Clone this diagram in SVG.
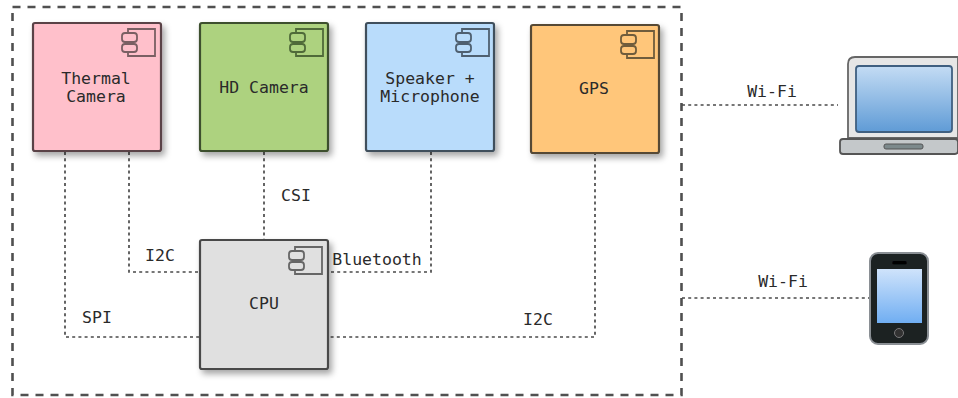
<svg xmlns="http://www.w3.org/2000/svg" width="958" height="398" viewBox="0 0 958 398">
<style>
text{font-family:"DejaVu Sans Mono","Liberation Mono",monospace;font-size:16.5px;fill:#2a2a2a;text-anchor:middle}
.box{stroke-width:2.2}
.ic{fill:none;stroke-width:1.8}
.con{fill:none;stroke:#4a4a4a;stroke-width:1.7;stroke-dasharray:3 3.2}
.fr{fill:none;stroke:#505050;stroke-width:2.6;stroke-dasharray:8 7}
</style>
<defs>
<filter id="sh" x="-10%" y="-10%" width="125%" height="125%"><feDropShadow dx="3" dy="4" stdDeviation="3" flood-color="#000" flood-opacity=".35"/></filter>
<filter id="soft" x="-5%" y="-5%" width="110%" height="110%"><feGaussianBlur stdDeviation=".7"/></filter>
<linearGradient id="scr" x1="0" y1="0" x2="0" y2="1"><stop offset="0" stop-color="#c4dcf4"/><stop offset="1" stop-color="#5f9bd6"/></linearGradient>
<linearGradient id="ph" x1="0" y1="0" x2="0" y2="1"><stop offset="0" stop-color="#cfe3fb"/><stop offset="1" stop-color="#70aef2"/></linearGradient>
<g id="comp"><path class="ic" d="M-27 4V0H0V27H-27V23M-27 13V15"/><rect class="ic" x="-33" y="4" width="15" height="9" rx="3"/><rect class="ic" x="-33" y="15" width="15" height="8" rx="3"/></g>
</defs>
<rect class="fr" x="12.500" y="7" width="669" height="388"/>
<g id="connectors">
<path class="con" d="M65 152V337H200"/>
<path class="con" d="M129 152V272H200"/>
<path class="con" d="M264 152V240"/>
<path class="con" d="M431 152V272H329"/>
<path class="con" d="M595 152V337H329"/>
<path class="con" d="M682 105H838"/>
<path class="con" d="M682 298H870"/>
<text x="160" y="261">I2C</text>
<text x="97" y="323">SPI</text>
<text x="296" y="201">CSI</text>
<text x="377" y="265">Bluetooth</text>
<text x="538" y="325">I2C</text>
<text x="772" y="97">Wi-Fi</text>
<text x="783" y="287">Wi-Fi</text>
</g>
<g id="thermal">
<rect class="box" x="33" y="23" width="128" height="128" rx="2" fill="#ffc0cb" stroke="#5a4347" filter="url(#sh)"/>
<use href="#comp" x="155" y="29" stroke="#7a5f63"/>
<text x="96" y="84">Thermal</text><text x="96" y="102">Camera</text>
</g>
<g id="hdcamera">
<rect class="box" x="200" y="23" width="128" height="128" rx="2" fill="#add27f" stroke="#3c4f2d" filter="url(#sh)"/>
<use href="#comp" x="323" y="29" stroke="#4f6a39"/>
<text x="264" y="93">HD Camera</text>
</g>
<g id="speaker">
<rect class="box" x="366" y="23" width="128" height="128" rx="2" fill="#b9dcfb" stroke="#3f4f5c" filter="url(#sh)"/>
<use href="#comp" x="489" y="29" stroke="#4f6070"/>
<text x="430" y="84">Speaker +</text><text x="430" y="102">Microphone</text>
</g>
<g id="gps">
<rect class="box" x="531" y="25" width="128" height="128" rx="2" fill="#ffc67a" stroke="#574a35" filter="url(#sh)"/>
<use href="#comp" x="654" y="31" stroke="#6f5c3c"/>
<text x="594" y="94">GPS</text>
</g>
<g id="cpu">
<rect class="box" x="200" y="240" width="128" height="129" rx="2" fill="#e0e0e0" stroke="#4a4a4a" filter="url(#sh)"/>
<use href="#comp" x="322" y="247" stroke="#666"/>
<text x="264" y="309">CPU</text>
</g>
<g id="laptop">
<path d="M848 64Q848 57 855 57H958V138H848Z" fill="#e6e6e6" stroke="#666" stroke-width="1.800"/>
<rect x="856" y="66" width="96" height="66" rx="3" fill="url(#scr)" stroke="#3f5f80" stroke-width="1.800"/>
<rect x="840" y="139" width="118" height="15" rx="3" fill="#c4c8ca" stroke="#555" stroke-width="1.800"/>
<rect x="884" y="144" width="39" height="5" rx="2" fill="#7d8a8c" stroke="#555"/>
</g>
<g id="phone" filter="url(#soft)">
<rect x="870" y="253" width="58" height="91" rx="8" fill="#1c2024" stroke="#8a8f94" stroke-width="2"/>
<rect x="877" y="269" width="45" height="54" fill="url(#ph)"/>
<rect x="892" y="261" width="15" height="3.500" rx="1.700" fill="#050505"/>
<circle cx="899" cy="333" r="4.500" fill="#333" stroke="#777"/>
</g>
</svg>
